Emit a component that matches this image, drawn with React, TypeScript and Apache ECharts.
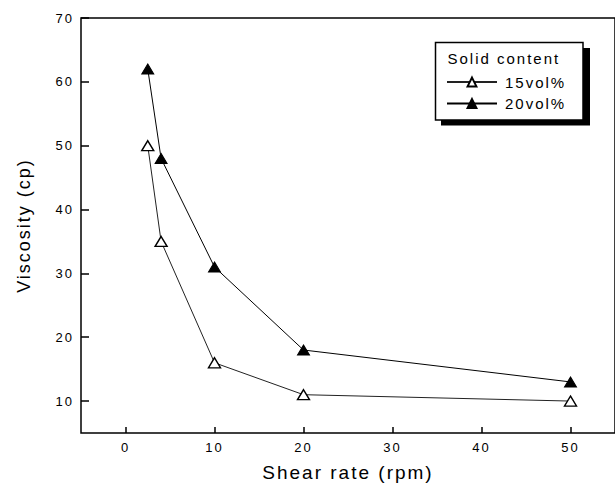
import React, { useEffect, useRef } from 'react';
import * as echarts from 'echarts';

const shearRate = [2.5, 4, 10, 20, 50];
const vol15 = [50, 35, 16, 11, 10];
const vol20 = [62, 48, 31, 18, 13];
const xTicks = [0, 10, 20, 30, 40, 50];
const yTicks = [10, 20, 30, 40, 50, 60, 70];
const seriesNames = ['15vol%', '20vol%'];
const legendTitle = 'Solid content';
const xName = 'Shear rate (rpm)';
const yName = 'Viscosity (cp)';

export default function App() {
  const ref = useRef<HTMLDivElement>(null);
  useEffect(() => {
    const chart = echarts.init(ref.current!, null, { renderer: 'svg' });
    const font = "'Liberation Sans', Arial, Helvetica, sans-serif";
    const legendText = { fontSize: 15, fontFamily: font, color: '#000', lineHeight: 14, padding: [0, 0, 0, 3] };
    chart.setOption({
      animation: false,
      backgroundColor: '#fff',
      grid: {
        left: 81, top: 18, right: -3, bottom: 53,
        show: true, borderColor: '#000', borderWidth: 1.5, backgroundColor: 'transparent',
      },
      xAxis: {
        type: 'value', min: -5, max: 55,
        axisLine: { show: false, onZero: false },
        splitLine: { show: false },
        axisTick: { inside: true, length: 6, lineStyle: { color: '#000', width: 1.5 }, customValues: xTicks },
        axisLabel: { customValues: xTicks, color: '#000', fontSize: 13, fontFamily: font, margin: 8 },
        name: xName, nameLocation: 'middle', nameGap: 30,
        nameTextStyle: { fontSize: 19, color: '#000', fontFamily: font },
      },
      yAxis: {
        type: 'value', min: 5, max: 70,
        axisLine: { show: false, onZero: false },
        splitLine: { show: false },
        axisTick: { inside: true, length: 8, lineStyle: { color: '#000', width: 1.5 }, customValues: yTicks },
        axisLabel: { customValues: yTicks, color: '#000', fontSize: 13, fontFamily: font, margin: 7 },
        name: yName, nameLocation: 'middle', nameGap: 48,
        nameTextStyle: { fontSize: 18, color: '#000', fontFamily: font },
      },
      legend: [
        {
          z: 30, data: [seriesNames[0]], left: 446, top: 74.5, padding: 0, itemWidth: 50, itemHeight: 11,
          selectedMode: false, textStyle: legendText,
        },
        {
          z: 30, data: [seriesNames[1]], left: 446, top: 96, padding: 0, itemWidth: 50, itemHeight: 11,
          selectedMode: false, textStyle: legendText,
        },
      ],
      graphic: [
        { type: 'rect', z: 10, shape: { x: 441, y: 48, width: 149, height: 77.5 }, style: { fill: '#000' } },
        { type: 'rect', z: 11, shape: { x: 435.5, y: 42.5, width: 147.5, height: 77.5 }, style: { fill: '#fff', stroke: '#000', lineWidth: 1.5 } },
        { type: 'text', z: 12, x: 447.5, y: 58, style: { text: legendTitle, font: `15px ${font}`, fill: '#000', verticalAlign: 'middle' } },
      ],
      series: [
        {
          name: seriesNames[0], type: 'line',
          data: shearRate.map((x, i) => [x, vol15[i]]),
          symbol: 'triangle', symbolSize: [12, 10],
          itemStyle: { color: '#fff', borderColor: '#000', borderWidth: 1.4 },
          lineStyle: { color: '#222', width: 1 },
        },
        {
          name: seriesNames[1], type: 'line',
          data: shearRate.map((x, i) => [x, vol20[i]]),
          symbol: 'triangle', symbolSize: [12, 10],
          itemStyle: { color: '#000', borderColor: '#000', borderWidth: 1 },
          lineStyle: { color: '#000', width: 1 },
        },
      ],
    });
    return () => chart.dispose();
  }, []);
  return (
    <div
      ref={ref}
      style={{ position: 'fixed', left: 0, top: 0, width: 615, height: 487, letterSpacing: '2px', background: '#fff' }}
    />
  );
}
